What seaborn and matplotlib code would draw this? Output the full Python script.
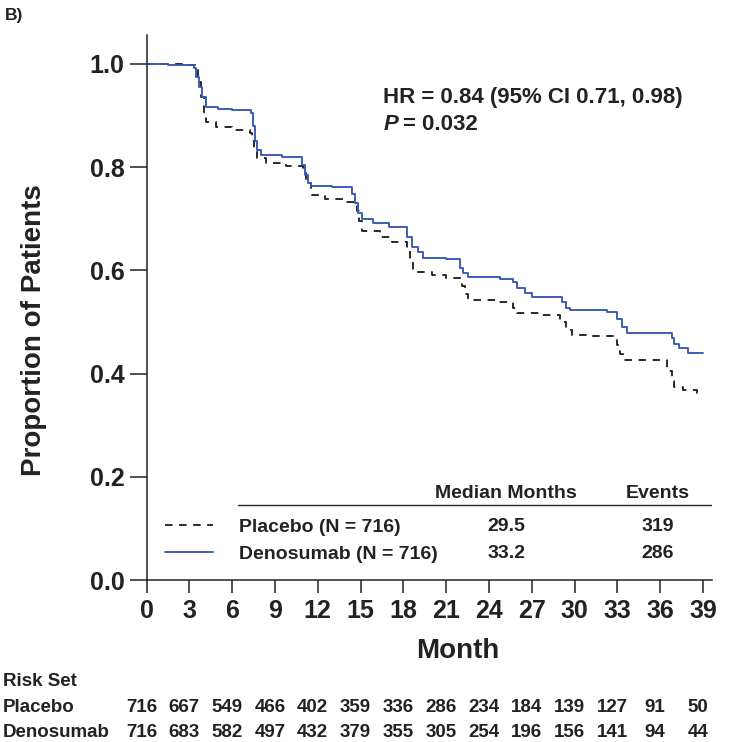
import pandas as pd
import matplotlib
matplotlib.use("Agg")
import matplotlib.pyplot as plt
import matplotlib.transforms as mtransforms
import seaborn as sns

# curvas de Kaplan-Meier (mes, proporcion)
placebo_months = [0.0, 2.5, 3.4, 3.6, 3.8, 4.0, 4.2, 4.9, 6.0, 7.25, 7.4, 7.55, 7.75, 8.4, 9.8,
                  11.0, 11.2, 11.5, 12.5, 13.8, 14.75, 14.9, 15.1, 16.4, 17.2, 18.25, 18.45, 18.7,
                  20.0, 21.0, 22.1, 22.3, 22.5, 24.5, 25.7, 26.0, 27.5, 29.0, 29.4, 29.8, 31.0,
                  33.0, 33.2, 33.4, 36.5, 36.8, 37.0, 37.6, 38.6, 38.9]
placebo_surv = [1.000, 0.998, 0.990, 0.965, 0.935, 0.905, 0.887, 0.878, 0.872, 0.866, 0.850, 0.832,
                0.818, 0.808, 0.803, 0.790, 0.770, 0.746, 0.738, 0.732, 0.715, 0.695, 0.676, 0.665,
                0.655, 0.640, 0.620, 0.597, 0.591, 0.586, 0.570, 0.555, 0.543, 0.538, 0.528, 0.517,
                0.514, 0.500, 0.485, 0.475, 0.472, 0.455, 0.438, 0.426, 0.405, 0.385, 0.374, 0.368,
                0.362, 0.362]

deno_months = [0.0, 1.5, 3.3, 3.5, 3.7, 3.9, 4.2, 5.0, 6.0, 7.3, 7.45, 7.6, 7.75, 8.0, 9.5,
               10.9, 11.1, 11.3, 11.5, 13.0, 14.4, 14.6, 14.8, 15.1, 15.9, 17.0, 18.25, 18.6, 19.0,
               19.4, 21.0, 22.0, 22.2, 22.5, 24.8, 25.7, 26.0, 26.5, 27.0, 29.1, 29.4, 29.7, 32.3,
               33.0, 33.3, 33.7, 36.8, 37.0, 37.3, 37.96, 39.0]
deno_surv = [1.000, 0.998, 0.993, 0.975, 0.955, 0.935, 0.917, 0.913, 0.910, 0.905, 0.880, 0.850,
             0.833, 0.824, 0.820, 0.805, 0.785, 0.770, 0.764, 0.762, 0.748, 0.730, 0.712, 0.700,
             0.692, 0.684, 0.665, 0.645, 0.636, 0.624, 0.622, 0.605, 0.595, 0.587, 0.583, 0.578,
             0.565, 0.556, 0.548, 0.538, 0.528, 0.523, 0.520, 0.505, 0.490, 0.479, 0.468, 0.457,
             0.450, 0.440, 0.440]

groups = ["Placebo (N = 716)", "Denosumab (N = 716)"]
median_months = ["29.5", "33.2"]
events = ["319", "286"]

# tabla de pacientes en riesgo
risk_months = [0, 3, 6, 9, 12, 15, 18, 21, 24, 27, 30, 33, 36, 39]
risk_placebo = [716, 667, 549, 466, 402, 359, 336, 286, 234, 184, 139, 127, 91, 50]
risk_deno = [716, 683, 582, 497, 432, 379, 355, 305, 254, 196, 156, 141, 94, 44]

df = pd.concat([
    pd.DataFrame({"Month": placebo_months, "Proportion": placebo_surv, "Group": groups[0]}),
    pd.DataFrame({"Month": deno_months, "Proportion": deno_surv, "Group": groups[1]}),
])

sns.set_style("ticks")
plt.rcParams["font.family"] = ["Liberation Sans", "DejaVu Sans"]
plt.rcParams["font.weight"] = "bold"

fig = plt.figure(figsize=(7.29, 7.42), dpi=100)
ax = fig.add_axes([146.5 / 729, 162 / 742, 565 / 729, 545 / 742])

sns.lineplot(data=df, x="Month", y="Proportion", hue="Group", style="Group",
             hue_order=groups, style_order=groups,
             palette={groups[0]: "#222222", groups[1]: "#3657b3"},
             dashes={groups[0]: (4, 3.5), groups[1]: ""},
             estimator=None, sort=False, drawstyle="steps-post",
             linewidth=1.35, legend=False, ax=ax)

ax.set_xlim(0, 39.6)
ax.set_ylim(0, 1.056)
ax.set_xticks(risk_months)
ax.set_yticks([0.0, 0.2, 0.4, 0.6, 0.8, 1.0])
ax.set_yticklabels(["0.0", "0.2", "0.4", "0.6", "0.8", "1.0"])
ax.tick_params(axis="x", length=9.4, width=1.1, pad=4, labelsize=18, color="#222222")
ax.tick_params(axis="y", length=12, width=1.1, pad=4, labelsize=18, color="#222222")
for lab in ax.get_xticklabels() + ax.get_yticklabels():
    lab.set_fontweight("bold")
    lab.set_color("#222222")
sns.despine(ax=ax)
for s in ["left", "bottom"]:
    ax.spines[s].set_linewidth(1.1)
    ax.spines[s].set_color("#222222")

ax.set_xlabel("Month", fontsize=20, fontweight="bold", color="#222222")
ax.xaxis.set_label_coords(0.551, -0.106)
ax.set_ylabel("Proportion of Patients", fontsize=20, fontweight="bold", color="#222222")
ax.yaxis.set_label_coords(-0.176, 0.459)

# HR y P
ax.text(16.6, 0.924, "HR = 0.84 (95% CI 0.71, 0.98)", fontsize=16, fontweight="bold",
        va="baseline", color="#222222")
ax.text(16.6, 0.872, "P", fontsize=16, fontweight="bold", style="italic",
        va="baseline", color="#222222")
ax.text(18.0, 0.872, "= 0.032", fontsize=16, fontweight="bold", va="baseline", color="#222222")

# leyenda con tabla
handles = ax.get_lines()[:2]
leg = ax.legend(handles, groups, loc="center left", bbox_to_anchor=(0.033, 0.0723),
                frameon=False, fontsize=14, handlelength=2.45, handletextpad=1.35,
                labelspacing=0.48, borderpad=0, borderaxespad=0)
for t in leg.get_texts():
    t.set_fontweight("bold")
    t.set_color("#222222")

ax.text(25.2, 0.167, "Median Months", fontsize=14, fontweight="bold", ha="center", va="center",
        color="#222222")
ax.text(35.8, 0.167, "Events", fontsize=14, fontweight="bold", ha="center", va="center",
        color="#222222")
ax.axhline(0.145, xmin=6.41 / 39.6, xmax=1.0, color="#222222", linewidth=1.0)
row_y = [0.103, 0.051]
for i in range(2):
    ax.text(25.2, row_y[i], median_months[i], fontsize=14, fontweight="bold", ha="center",
            va="center", color="#222222")
    ax.text(35.8, row_y[i], events[i], fontsize=14, fontweight="bold", ha="center",
            va="center", color="#222222")

# tabla de riesgo
trans = mtransforms.blended_transform_factory(ax.transData, ax.transAxes)
fig.text(3 / 729, 1 - 686 / 742, "Risk Set", fontsize=13.5, fontweight="bold", va="baseline",
         color="#222222")
fig.text(3 / 729, 1 - 712 / 742, "Placebo", fontsize=13.5, fontweight="bold", va="baseline",
         color="#222222")
fig.text(3 / 729, 1 - 737 / 742, "Denosumab", fontsize=13.5, fontweight="bold", va="baseline",
         color="#222222")
for m, a, b in zip(risk_months, risk_placebo, risk_deno):
    ax.text(m - 0.35, -0.2422, str(a), transform=trans, fontsize=13.5, fontweight="bold",
            ha="center", va="baseline", clip_on=False, color="#222222")
    ax.text(m - 0.35, -0.288, str(b), transform=trans, fontsize=13.5, fontweight="bold",
            ha="center", va="baseline", clip_on=False, color="#222222")

fig.text(5 / 729, 1 - 20 / 742, "B)", fontsize=12.5, fontweight="bold", va="baseline",
         color="#222222")

fig.savefig("out.png", dpi=100)
